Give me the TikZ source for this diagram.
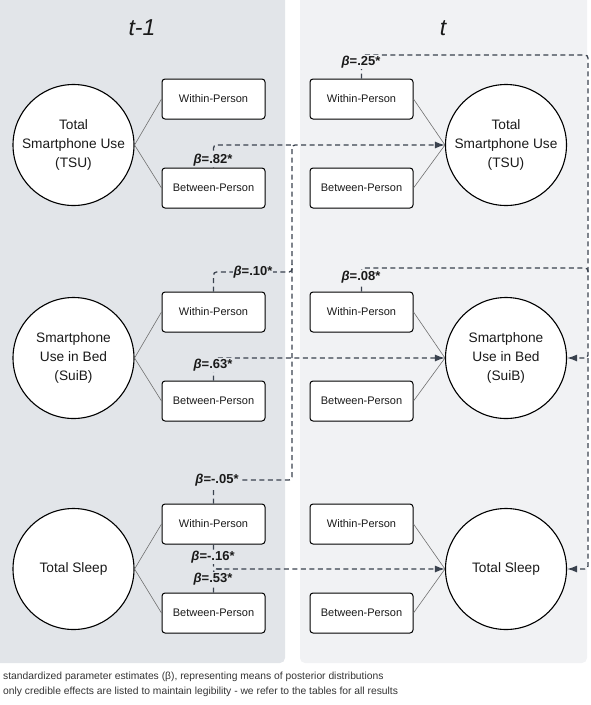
\documentclass[tikz,border=0pt]{standalone}
\usepackage{fontspec}
\setmainfont{Liberation Sans}
\usetikzlibrary{arrows.meta}
\definecolor{panelL}{HTML}{E2E5E9}
\definecolor{panelR}{HTML}{F1F2F4}
\definecolor{effc}{HTML}{3A424E}
\definecolor{linkc}{HTML}{707070}
\definecolor{txt}{HTML}{1A1A1A}
\definecolor{foot}{HTML}{333333}
\begin{document}
\begin{tikzpicture}[x=1pt,y=-1pt,
  panel/.style={rounded corners=5pt},
  latent/.style={circle, draw=black, line width=1.1pt, fill=white, minimum size=121pt, inner sep=0pt, align=center, text=txt, font=\fontsize{13.7}{19}\selectfont},
  obs/.style={draw=black, line width=1pt, fill=white, rounded corners=3pt, minimum width=103pt, minimum height=40pt, inner sep=0pt, text=txt, font=\fontsize{11}{13}\selectfont},
  link/.style={draw=linkc, line width=0.6pt},
  eff/.style={draw=effc, line width=1.3pt, dash pattern=on 5pt off 3.5pt, rounded corners=3pt},
  effarrow/.style={eff, -{Latex[length=10pt,width=7pt]}},
  betaL/.style={fill=panelL, inner sep=1pt, text=txt, font=\fontsize{13}{15}\selectfont\bfseries},
  betaR/.style={fill=panelR, inner sep=1pt, text=txt, font=\fontsize{13}{15}\selectfont\bfseries},
  ttl/.style={text=txt, font=\fontsize{23}{26}\selectfont\itshape},
  note/.style={anchor=base west, inner sep=0pt, text=foot, font=\fontsize{10.3}{12}\selectfont}
]
\useasboundingbox (0,0) rectangle (590,705);
% panels
\fill[panelL, panel] (-6,-6) rectangle (285,663);
\fill[panelR, panel] (300,-6) rectangle (587,663);
\node[ttl] (tL) at (142,28) {t-1};
\node[ttl] (tR) at (443,28) {t};

% nodes t-1
\node[latent] (LC1) at (73.5,145) {Total\\Smartphone Use\\(TSU)};
\node[latent] (LC2) at (73.5,358) {Smartphone\\Use in Bed\\(SuiB)};
\node[latent] (LC3) at (73.5,569) {Total Sleep};
\node[obs] (LW1) at (213.5,99) {Within-Person};
\node[obs] (LB1) at (213.5,188) {Between-Person};
\node[obs] (LW2) at (213.5,312) {Within-Person};
\node[obs] (LB2) at (213.5,401) {Between-Person};
\node[obs] (LW3) at (213.5,524) {Within-Person};
\node[obs] (LB3) at (213.5,613) {Between-Person};
% nodes t
\node[latent] (RC1) at (506,145) {Total\\Smartphone Use\\(TSU)};
\node[latent] (RC2) at (506,358) {Smartphone\\Use in Bed\\(SuiB)};
\node[latent] (RC3) at (506,569) {Total Sleep};
\node[obs] (RW1) at (361.5,99) {Within-Person};
\node[obs] (RB1) at (361.5,188) {Between-Person};
\node[obs] (RW2) at (361.5,312) {Within-Person};
\node[obs] (RB2) at (361.5,401) {Between-Person};
\node[obs] (RW3) at (361.5,524) {Within-Person};
\node[obs] (RB3) at (361.5,613) {Between-Person};

% junction coordinates
\coordinate (jA) at (292,145);
\coordinate (jB) at (292,272);
\coordinate (jC) at (292,480);
\coordinate (jS) at (222,569);
\coordinate (rA) at (588,55);
\coordinate (rB) at (588,268);
\coordinate (rC) at (588,358);

% dashed effects
\draw[effarrow] (LW3.north) |- (jC) |- (RC1.west);
\draw[eff] (LB1.north) |- (jA);
\draw[eff] (LW2.north) |- (jB) -- ++(0,-8);
\draw[effarrow] (LB2.north) |- (RC2.west);
\draw[effarrow] (LW3.south) |- (RC3.west);
\draw[eff] (LB3.north) |- (jS);
\draw[effarrow] (RW1.north) |- (rA) |- (RC2.east);
\draw[eff] (RW2.north) |- (rB) -- ++(0,8);
\draw[effarrow] (rC) |- (RC3.east);

% links
\foreach \c/\w/\b in {LC1/LW1/LB1, LC2/LW2/LB2, LC3/LW3/LB3}{
  \draw[link] (\c.east) -- (\w.west);
  \draw[link] (\c.east) -- (\b.west);
}
\foreach \c/\w/\b in {RC1/RW1/RB1, RC2/RW2/RB2, RC3/RW3/RB3}{
  \draw[link] (\w.east) -- (\c.west);
  \draw[link] (\b.east) -- (\c.west);
}

% labels
\node[betaL] (b82) at (213,160) {\textit{β}=.82*};
\node[betaL] (b10) at (253,272) {\textit{β}=.10*};
\node[betaL] (b63) at (213,365) {\textit{β}=.63*};
\node[betaL] (b05) at (217,480) {\textit{β}=-.05*};
\node[betaL] (b16) at (213,557) {\textit{β}=-.16*};
\node[betaL] (b53) at (213,579) {\textit{β}=.53*};
\node[betaR] (b25) at (361,62) {\textit{β}=.25*};
\node[betaR] (b08) at (361,277) {\textit{β}=.08*};

% footer
\node[note] (n1) at (3,679) {standardized parameter estimates (β), representing means of posterior distributions};
\node[note] (n2) at (3,694) {only credible effects are listed to maintain legibility - we refer to the tables for all results};
\end{tikzpicture}
\end{document}
